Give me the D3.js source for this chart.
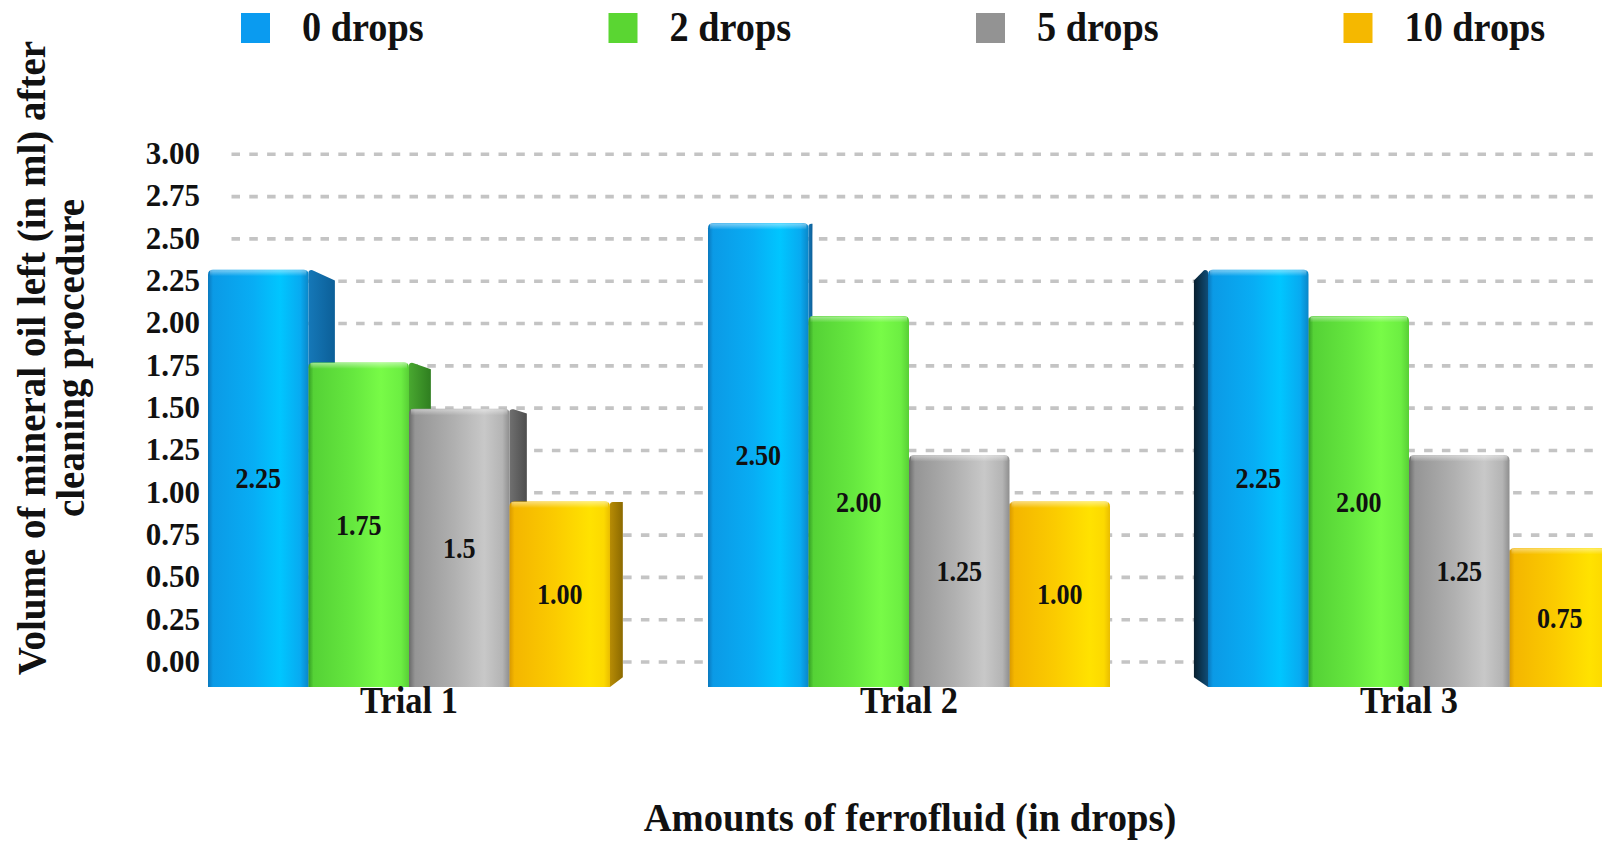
<!DOCTYPE html>
<html>
<head>
<meta charset="utf-8">
<script src="https://cdn.jsdelivr.net/npm/d3@7"></script>
<style>
  html, body { margin: 0; padding: 0; background: #ffffff; }
  svg { display: block; }
  text { font-family: "Liberation Serif", "DejaVu Serif", serif; font-weight: bold; fill: #111; }
</style>
</head>
<body>
<svg id="chart" width="1602" height="843"></svg>
<script>
// ---- data ----
const trials = ["Trial 1", "Trial 2", "Trial 3"];
const series = ["0 drops", "2 drops", "5 drops", "10 drops"];
const drops0 = [2.25, 2.50, 2.25];
const drops2 = [1.75, 2.00, 2.00];
const drops5 = [1.50, 1.25, 1.25];
const drops10 = [1.00, 1.00, 0.75];
const labels0 = ["2.25", "2.50", "2.25"];
const labels2 = ["1.75", "2.00", "2.00"];
const labels5 = ["1.5", "1.25", "1.25"];
const labels10 = ["1.00", "1.00", "0.75"];
const yTicks = [0, 0.25, 0.5, 0.75, 1, 1.25, 1.5, 1.75, 2, 2.25, 2.5, 2.75, 3];
const yTitle = ["Volume of mineral oil left (in ml) after", "cleaning procedure"];
const xTitle = "Amounts of ferrofluid (in drops)";

const seriesValues = [drops0, drops2, drops5, drops10];
const seriesLabels = [labels0, labels2, labels5, labels10];

// ---- styling ----
const palette = [
  { key: "blue",   legend: "#0a9bf0", side: ["#1578b8", "#0c5f98"], sideDark: ["#081f2e", "#0f4d78"],
    stops: [[0, "#0a78bd"], [0.05, "#0b9ae6"], [0.45, "#08adf4"], [0.72, "#00c6ff"], [0.92, "#08aaf0"], [1, "#0b86c8"]] },
  { key: "green",  legend: "#5ad632", side: ["#49a830", "#2f7e20"], sideDark: ["#163a0e", "#2f7020"],
    stops: [[0, "#35a025"], [0.05, "#55d236"], [0.45, "#66e83f"], [0.72, "#78fb47"], [0.92, "#6cee42"], [1, "#58cf36"]] },
  { key: "gray",   legend: "#939393", side: ["#707070", "#4e4e4e"], sideDark: ["#2a2a2a", "#555555"],
    stops: [[0, "#6a6a6a"], [0.06, "#959595"], [0.45, "#b0b0b0"], [0.75, "#c8c8c8"], [0.93, "#b4b4b4"], [1, "#8e8e8e"]] },
  { key: "yellow", legend: "#f5b800", side: ["#b78c05", "#8c6a00"], sideDark: ["#4a3600", "#8a6800"],
    stops: [[0, "#d99a00"], [0.05, "#f4b600"], [0.45, "#fbcb00"], [0.8, "#ffe200"], [0.94, "#fcd900"], [1, "#e9bd00"]] }
];

const svg = d3.select("#chart");

// ---- scales ----
// back wall (gridlines and tick labels)
const yGrid = d3.scaleLinear().domain([0, 3]).range([662, 154.3]);
// front plane of the bars
const yBar = d3.scaleLinear().domain([0, 3]).range([687, 130.5]);
const xGroup = d3.scaleBand().domain(trials).range([208, 1610]).paddingInner(0.196).paddingOuter(0);
const xSeries = d3.scaleBand().domain(series).range([0, xGroup.bandwidth()]).padding(0);

// perspective: side faces recede toward a vanishing point
const vx = 895, vy = 468, depth = 0.045;

// ---- gradients ----
const defs = svg.append("defs");
const hGrad = (id, stops) => {
  const g = defs.append("linearGradient").attr("id", id)
    .attr("x1", "0%").attr("x2", "100%").attr("y1", "0%").attr("y2", "0%");
  stops.forEach(s => g.append("stop").attr("offset", s[0]).attr("stop-color", s[1]));
};
palette.forEach(p => {
  hGrad("grad-" + p.key, p.stops);
  hGrad("side-r-" + p.key, [[0, p.side[0]], [1, p.side[1]]]);
  hGrad("side-l-" + p.key, [[0, p.sideDark[0]], [1, p.sideDark[1]]]);
});
const topShine = defs.append("linearGradient").attr("id", "top-shine")
  .attr("x1", "0").attr("x2", "0").attr("y1", "0").attr("y2", "1");
topShine.append("stop").attr("offset", 0).attr("stop-color", "#ffffff").attr("stop-opacity", 0.45);
topShine.append("stop").attr("offset", 1).attr("stop-color", "#ffffff").attr("stop-opacity", 0);

svg.append("rect").attr("width", 1602).attr("height", 843).attr("fill", "#ffffff");

// ---- gridlines ----
svg.append("g").selectAll("line").data(yTicks).join("line")
  .attr("x1", 231.5).attr("x2", 1594)
  .attr("y1", d => yGrid(d)).attr("y2", d => yGrid(d))
  .attr("stroke", "#c4c4c4").attr("stroke-width", 3.6)
  .attr("stroke-dasharray", "8.5 9.3");

// ---- y axis tick labels ----
const yAxis = d3.axisLeft(yGrid).tickValues(yTicks).tickFormat(d3.format(".2f")).tickSize(0).tickPadding(0);
const axisG = svg.append("g").attr("transform", "translate(200,0)").call(yAxis);
axisG.select(".domain").remove();
axisG.selectAll("text")
  .attr("font-family", "Liberation Serif").attr("font-weight", "bold")
  .attr("font-size", 31).attr("fill", "#111").attr("dy", "0.3em");

// ---- bars ----
const bars = [];
trials.forEach((t, ti) => {
  series.forEach((s, si) => {
    const x0 = xGroup(t) + xSeries(s);
    const x1 = x0 + xSeries.bandwidth();
    bars.push({ trial: t, ti, si, value: seriesValues[si][ti], label: seriesLabels[si][ti], x0, x1 });
  });
});
// draw the bars farthest from the vanishing point first so nearer bars cover their side faces
bars.sort((a, b) => Math.abs((b.x0 + b.x1) / 2 - vx) - Math.abs((a.x0 + a.x1) / 2 - vx));

const recede = (x, y) => [x + depth * (vx - x), y + depth * (vy - y)];

const barG = svg.append("g");
bars.forEach(b => {
  const p = palette[b.si];
  const yt = yBar(b.value), yb = yBar(0);
  const g = barG.append("g");
  // side face
  if (b.x1 < vx || b.x0 > vx) {
    const right = b.x1 < vx;
    const ex = right ? b.x1 : b.x0;
    const a = recede(ex, yt), c = recede(ex, yb);
    g.append("path")
      .attr("d", `M${ex},${yt + 3} Q${ex},${yt} ${ex + (right ? 4 : -4)},${yt + 0.5} L${a[0]},${a[1] + 2} L${c[0]},${c[1]} L${ex},${yb} Z`)
      .attr("fill", `url(#${right ? "side-r-" : "side-l-"}${p.key})`);
  }
  // front face with rounded top corners
  const r = 5;
  g.append("path")
    .attr("d", `M${b.x0},${yb} L${b.x0},${yt + r} Q${b.x0},${yt} ${b.x0 + r},${yt} L${b.x1 - r},${yt} Q${b.x1},${yt} ${b.x1},${yt + r} L${b.x1},${yb} Z`)
    .attr("fill", `url(#grad-${p.key})`);
  g.append("rect")
    .attr("x", b.x0 + 2).attr("y", yt + 0.5).attr("width", b.x1 - b.x0 - 4).attr("height", 6)
    .attr("fill", "url(#top-shine)");
  // value label
  g.append("text")
    .attr("transform", `translate(${(b.x0 + b.x1) / 2},${(yt + yb) / 2}) scale(0.9,1)`)
    .attr("text-anchor", "middle").attr("dy", "0.35em")
    .attr("font-size", 29)
    .text(b.label);
});

// ---- category labels ----
svg.append("g").selectAll("text").data(trials).join("text")
  .attr("transform", d => `translate(${xGroup(d) + xGroup.bandwidth() / 2},713) scale(0.93,1)`)
  .attr("text-anchor", "middle").attr("font-size", 37)
  .text(d => d);

// ---- axis titles ----
svg.append("text")
  .attr("transform", "translate(910,831) scale(0.99,1)")
  .attr("text-anchor", "middle").attr("font-size", 39)
  .text(xTitle);

svg.append("g").selectAll("text").data(yTitle).join("text")
  .attr("transform", (d, i) => `translate(${45 + i * 39},358) rotate(-90) scale(1.0,1)`)
  .attr("text-anchor", "middle").attr("font-size", 39)
  .text(d => d);

// ---- legend ----
const legend = svg.append("g").selectAll("g").data(series).join("g")
  .attr("transform", (d, i) => `translate(${241 + i * 367.5},13)`);
legend.append("rect").attr("width", 29).attr("height", 30)
  .attr("fill", (d, i) => palette[i].legend);
legend.append("text")
  .attr("transform", "translate(61,28) scale(0.89,1)")
  .attr("font-size", 43)
  .text(d => d);
</script>
</body>
</html>
